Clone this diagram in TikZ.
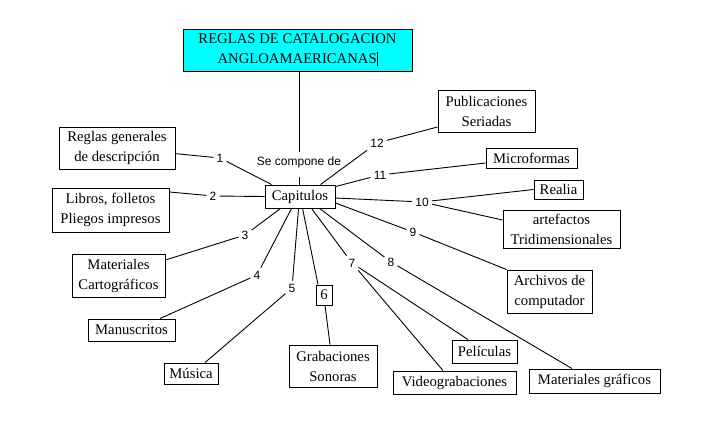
\documentclass[tikz,border=0pt]{standalone}
\usepackage{fontspec}
\setmainfont{Liberation Serif}
\setsansfont{Liberation Sans}
\newfontfamily\boxfont{Liberation Serif}
\definecolor{titlecyan}{RGB}{0,255,255}
\begin{document}
\begin{tikzpicture}[x=1pt,y=-1pt,
  box/.style={draw, line width=0.9pt, inner sep=0pt, align=center,
    font=\boxfont\fontsize{14.7}{20}\selectfont},
  lbl/.style={inner sep=3pt, font=\sffamily\fontsize{12}{14}\selectfont},
  ln/.style={line width=0.9pt}]
\fill[white] (0,0) rectangle (701,435);
\useasboundingbox (0,0) rectangle (701,435);

\node[box, fill=titlecyan, minimum width=229, minimum height=42] (title) at (297.5,50)
  {REGLAS DE CATALOGACION\\ANGLOAMAERICANAS\rule[-3pt]{0.7pt}{14pt}};
\node[box, minimum width=70, minimum height=23] (cap) at (300,196.5) {Capitulos};
\node[lbl, inner sep=0pt, minimum height=20] (sc) at (299,162) {Se compone de};

\node[box, minimum width=116, minimum height=42] (reglas) at (117,148) {Reglas generales\\de descripción};
\node[box, minimum width=117, minimum height=44] (libros) at (110.5,210) {Libros, folletos\\Pliegos impresos};
\node[box, minimum width=93, minimum height=43] (mater) at (118.5,275.5) {Materiales\\Cartográficos};
\node[box, minimum width=87, minimum height=22] (manus) at (131.5,330) {Manuscritos};
\node[box, minimum width=54, minimum height=21] (musica) at (191,373.5) {Música};
\node[box, minimum width=16, minimum height=20] (six) at (324,295) {6};
\node[box, minimum width=88, minimum height=42] (grab) at (333,366) {Grabaciones\\Sonoras};
\node[box, minimum width=65, minimum height=23] (pelic) at (484.5,351.5) {Películas};
\node[box, minimum width=123, minimum height=23] (video) at (454.5,382.5) {Videograbaciones};
\node[box, minimum width=131, minimum height=24] (matgraf) at (594.5,381) {Materiales gráficos};
\node[box, minimum width=85, minimum height=43] (archivos) at (549.5,291.5) {Archivos de\\computador};
\node[box, minimum width=117, minimum height=38] (artef) at (561.5,229) {artefactos\\Tridimensionales};
\node[box, minimum width=49, minimum height=19] (realia) at (558.5,189.5) {Realia};
\node[box, minimum width=91, minimum height=20] (micro) at (531.5,158) {Microformas};
\node[box, minimum width=97, minimum height=42] (public) at (486.5,111) {Publicaciones\\Seriadas};

\node[lbl] (l1) at (220,158) {1};
\node[lbl] (l2) at (213,196) {2};
\node[lbl] (l3) at (245,235) {3};
\node[lbl] (l4) at (257,275) {4};
\node[lbl] (l5) at (292,288) {5};
\node[lbl] (l7) at (352,263) {7};
\node[lbl] (l8) at (391,262) {8};
\node[lbl] (l9) at (413,232) {9};
\node[lbl] (l10) at (422,202) {10};
\node[lbl] (l11) at (380,175) {11};
\node[lbl] (l12) at (377,143) {12};

\draw[ln] (sc.north) -- (sc.north |- title.south);
\draw[ln] ([yshift=-5pt]sc.south) -- (sc.south |- cap.north);

\draw[ln] (reglas) -- (l1);
\draw[ln] (l1) -- ([xshift=7pt]cap.north west);
\draw[ln] ([yshift=18pt]libros.east) -- (l2);
\draw[ln] (l2) -- (cap.west);
\draw[ln] ([yshift=15.5pt]mater.east) -- (l3);
\draw[ln] (l3) -- ([xshift=16pt]cap.south west);
\draw[ln] ([xshift=27pt]cap.south west) -- (l4);
\draw[ln] (l4) -- ([xshift=28.5pt]manus.north);
\draw[ln] ([xshift=34pt]cap.south west) -- (l5);
\draw[ln] (l5) -- ([xshift=14pt]musica.north);
\draw[ln] ([xshift=38pt]cap.south west) -- ([xshift=-6pt]six.north);
\draw[ln] ([xshift=1pt]six.south) -- ([xshift=-3pt]grab.north);
\draw[ln] ([xshift=47pt]cap.south west) -- (l7);
\draw[ln] (l7) -- ([xshift=-16.5pt]pelic.north);
\draw[ln] (l7) -- ([xshift=-11.5pt]video.north);
\draw[ln] ([xshift=55pt]cap.south west) -- (l8);
\draw[ln] (l8) -- ([xshift=-22.5pt]matgraf.north);
\draw[ln] ([yshift=-6.5pt]cap.east) -- (l9);
\draw[ln] (l9) -- (archivos.north west);
\draw[ln] ([yshift=-1.5pt]cap.east) -- (l10);
\draw[ln] (l10) -- (realia.west);
\draw[ln] (l10) -- ([yshift=9pt]artef.west);
\draw[ln] ([yshift=-2pt]cap.north east) -- (l11);
\draw[ln] (l11) -- ([yshift=-5pt]micro.west);
\draw[ln] ([xshift=-15pt]cap.north east) -- (l12);
\draw[ln] (l12) -- ([yshift=-16pt]public.west);
\end{tikzpicture}
\end{document}
